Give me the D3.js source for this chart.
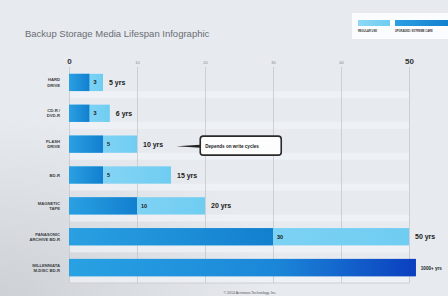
<!DOCTYPE html>
<html>
<head>
<meta charset="utf-8">
<script src="https://cdn.jsdelivr.net/npm/d3@7"></script>
<style>
  body { margin: 0; background: #e5e8ed; overflow: hidden; }
  svg { display: block; font-family: "Liberation Sans", Arial, sans-serif; }
</style>
</head>
<body>
<script>
// Chart data
const categories = [
  ["HARD", "DRIVE"],
  ["CD-R /", "DVD-R"],
  ["FLASH", "DRIVE"],
  ["BD-R"],
  ["MAGNETIC", "TAPE"],
  ["PANASONIC", "ARCHIVE BD-R"],
  ["MILLENNIATA", "M-DISC BD-R"]
];
const regularUse = [3, 3, 5, 5, 10, 30, 51];
const extremeCare = [5, 6, 10, 15, 20, 50, 51];
const yearLabels = ["5 yrs", "6 yrs", "10 yrs", "15 yrs", "20 yrs", "50 yrs", "1000+ yrs"];
const innerLabels = ["3", "3", "5", "5", "10", "30", ""];
const tickValues = [0, 10, 20, 30, 40, 50];
const legendLabels = ["REGULAR USE", "UPGRADED / EXTREME CARE"];

const width = 448, height = 296;

const svg = d3.select("body").append("svg")
    .attr("width", width)
    .attr("height", height);

const defs = svg.append("defs");

// page background, slightly darker toward the bottom left like the photo
const bg = defs.append("radialGradient").attr("id", "bg")
    .attr("cx", "0%").attr("cy", "100%").attr("r", "60%");
bg.append("stop").attr("offset", "0%").attr("stop-color", "#cdd0d5");
bg.append("stop").attr("offset", "100%").attr("stop-color", "#e7eaef");

const darkGrad = defs.append("linearGradient").attr("id", "dark");
darkGrad.append("stop").attr("offset", "0%").attr("stop-color", "#2aa0e2");
darkGrad.append("stop").attr("offset", "100%").attr("stop-color", "#127fcf");

const lightGrad = defs.append("linearGradient").attr("id", "light");
lightGrad.append("stop").attr("offset", "0%").attr("stop-color", "#8fd8f6");
lightGrad.append("stop").attr("offset", "100%").attr("stop-color", "#6fcdf2");

const mdiscGrad = defs.append("linearGradient").attr("id", "mdisc");
mdiscGrad.append("stop").attr("offset", "0%").attr("stop-color", "#28a2e3");
mdiscGrad.append("stop").attr("offset", "60%").attr("stop-color", "#1b86d8");
mdiscGrad.append("stop").attr("offset", "100%").attr("stop-color", "#0b3fbf");

svg.append("rect")
    .attr("width", width).attr("height", height)
    .attr("fill", "url(#bg)");

// Scales
const x = d3.scaleLinear().domain([0, 50]).range([69, 409]);
const y = d3.scaleBand()
    .domain(d3.range(categories.length))
    .range([67, 283])
    .paddingInner(0.44)
    .paddingOuter(0.22);

// Title
svg.append("text")
    .attr("x", 25).attr("y", 37)
    .attr("font-size", 9.5)
    .attr("fill", "#6a6d72")
    .text("Backup Storage Media Lifespan Infographic");

// Legend
const legend = svg.append("g");
legend.append("rect")
    .attr("x", 352).attr("y", 13).attr("width", 100).attr("height", 26)
    .attr("fill", "#fbfcfd");
legend.append("rect")
    .attr("x", 358).attr("y", 20).attr("width", 32).attr("height", 6)
    .attr("fill", "url(#light)");
legend.append("rect")
    .attr("x", 395).attr("y", 20).attr("width", 53).attr("height", 6)
    .attr("fill", "url(#dark)");
legend.selectAll("text.lg")
    .data(legendLabels)
    .enter().append("text")
    .attr("x", (d, i) => i === 0 ? 358 : 395)
    .attr("y", 32)
    .attr("font-size", 2.6)
    .attr("font-weight", "bold")
    .attr("fill", "#333")
    .text(d => d);

// Pale row tracks under each bar
svg.selectAll(".track")
    .data(categories)
    .enter().append("rect")
    .attr("x", x(0))
    .attr("y", (d, i) => y(i) + y.bandwidth())
    .attr("width", x(50) - x(0))
    .attr("height", 7)
    .attr("fill", "#f1f4f8")
    .attr("opacity", 0.7);

// Grid + axis
const axis = d3.axisTop(x)
    .tickValues(tickValues)
    .tickSize(-(283 - 67))
    .tickPadding(3);
const gAxis = svg.append("g")
    .attr("transform", "translate(0,67)")
    .call(axis);
gAxis.select(".domain").remove();
gAxis.selectAll(".tick line")
    .attr("stroke", "#c4c8ce")
    .attr("stroke-width", 0.8);
gAxis.selectAll(".tick text")
    .attr("fill", d => (d === 0 || d === 50) ? "#333" : "#888")
    .attr("font-size", d => (d === 0 || d === 50) ? 8 : 4)
    .attr("font-weight", d => (d === 0 || d === 50) ? "bold" : "normal");

// bottom border
svg.append("line")
    .attr("x1", x(0)).attr("x2", x(50))
    .attr("y1", 283).attr("y2", 283)
    .attr("stroke", "#c4c8ce").attr("stroke-width", 0.8);

// Bars: light (extreme care) first, then dark (regular use)
svg.selectAll(".bar-light")
    .data(extremeCare)
    .enter().append("rect")
    .attr("x", x(0))
    .attr("y", (d, i) => y(i))
    .attr("width", d => x(d) - x(0))
    .attr("height", y.bandwidth())
    .attr("fill", (d, i) => i === categories.length - 1 ? "url(#mdisc)" : "url(#light)");

svg.selectAll(".bar-dark")
    .data(regularUse)
    .enter().append("rect")
    .attr("x", x(0))
    .attr("y", (d, i) => y(i))
    .attr("width", d => x(d) - x(0))
    .attr("height", y.bandwidth())
    .attr("fill", (d, i) => i === categories.length - 1 ? "url(#mdisc)" : "url(#dark)");

// value labels inside the bars
svg.selectAll(".inner")
    .data(regularUse)
    .enter().append("text")
    .attr("x", d => x(d) + 4)
    .attr("y", (d, i) => y(i) + y.bandwidth() / 2 + 2)
    .attr("font-size", 5.5)
    .attr("font-weight", "bold")
    .attr("fill", "#1a1a1a")
    .text((d, i) => innerLabels[i]);

// year labels at the bar ends
const last = categories.length - 1;
svg.selectAll(".years")
    .data(extremeCare)
    .enter().append("text")
    .attr("x", (d, i) => x(d) + (i === last ? 5 : 6))
    .attr("y", (d, i) => y(i) + y.bandwidth() / 2 + 2.5)
    .attr("font-size", (d, i) => i === last ? 6 : 7)
    .attr("font-weight", "bold")
    .attr("font-family", "'Liberation Sans Narrow', 'Liberation Sans', sans-serif")
    .attr("fill", "#1a1a1a")
    .each(function (d, i) {
      // the last label sits at the right edge; squeeze it so it stays visible
      if (i === last) {
        d3.select(this).attr("textLength", 21).attr("lengthAdjust", "spacingAndGlyphs");
      }
    })
    .text((d, i) => yearLabels[i]);

// category labels
const cat = svg.selectAll(".cat")
    .data(categories)
    .enter().append("text")
    .attr("text-anchor", "end")
    .attr("font-size", 4.2)
    .attr("font-weight", "bold")
    .attr("fill", "#3a3d42")
    .attr("transform", (d, i) => {
      const cy = y(i) + y.bandwidth() / 2;
      return `translate(60,${cy + (d.length === 1 ? 1.5 : -1)})`;
    });
cat.selectAll("tspan")
    .data(d => d)
    .enter().append("tspan")
    .attr("x", 0)
    .attr("dy", (d, i) => i === 0 ? 0 : 5.2)
    .text(d => d);

// Callout for flash drive
const fy = y(2) + y.bandwidth() / 2 + 2;
svg.append("path")
    .attr("d", `M${x(15.8)},${fy} L${x(19.3)},${fy - 1.5} L${x(19.3)},${fy + 1.5} Z`)
    .attr("fill", "#222");
svg.append("rect")
    .attr("x", x(19.3)).attr("y", fy - 10)
    .attr("width", 81).attr("height", 19)
    .attr("rx", 3)
    .attr("fill", "#fdfdfe")
    .attr("stroke", "#2a2a2a")
    .attr("stroke-width", 1.6);
svg.append("text")
    .attr("x", x(19.3) + 5).attr("y", fy + 1.5)
    .attr("font-size", 4.6)
    .attr("font-weight", "bold")
    .attr("fill", "#222")
    .text("Depends on write cycles");

// Footer
svg.append("text")
    .attr("x", 250).attr("y", 294)
    .attr("text-anchor", "middle")
    .attr("font-size", 3.5)
    .attr("fill", "#555")
    .text("© 2014 Acronova Technology, Inc.");
</script>
</body>
</html>
